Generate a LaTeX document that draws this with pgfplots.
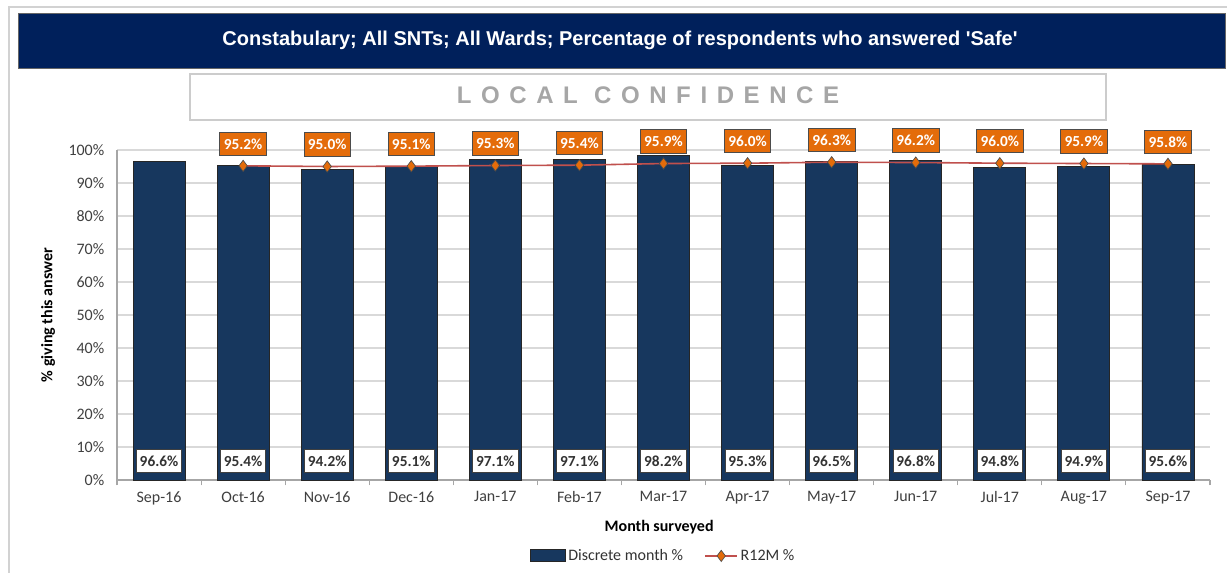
\documentclass[border=0pt]{standalone}
\usepackage{pgfplots}
\usepackage{pgfplotstable}
\pgfplotsset{compat=1.18}
\usepackage{fontspec}
\setmainfont{Carlito}
\newfontfamily\arialfont{Liberation Sans}
\definecolor{titlenavy}{HTML}{00205B}
\definecolor{barnavy}{HTML}{17375E}
\definecolor{lblorange}{HTML}{E46C0A}
\definecolor{linered}{HTML}{C0504D}
\definecolor{gridgray}{HTML}{D9D9D9}
\definecolor{axisgray}{HTML}{A6A6A6}

\pgfplotsset{
  barlegend/.style={legend image code/.code={\draw[##1] (0pt,-4.5pt) rectangle (26pt,4.5pt);}},
  linelegend/.style={legend image code/.code={\draw[mark repeat=2, mark phase=2, ##1] plot coordinates {(0pt,0pt) (12pt,0pt) (24pt,0pt)};}},
}

\pgfplotstableread{
x y
0 96.6
1 95.4
2 94.2
3 95.1
4 97.1
5 97.1
6 98.2
7 95.3
8 96.5
9 96.8
10 94.8
11 94.9
12 95.6
}\discrete

\pgfplotstableread{
x y
1 95.2
2 95.0
3 95.1
4 95.3
5 95.4
6 95.9
7 96.0
8 96.3
9 96.2
10 96.0
11 95.9
12 95.8
}\rtwelve

\begin{document}
\begin{tikzpicture}
\useasboundingbox (0,0) rectangle (920.25pt,429.75pt);
\fill[white] (0,0) rectangle (920.25pt,429.75pt);
% outer frame
\draw[gray!35, line width=1.2pt] (6.75pt,0) -- (6.75pt,424.5pt) -- (925pt,424.5pt);
% title bar
\draw[black!60, fill=titlenavy, line width=0.6pt] (13.5pt,420pt) rectangle (918.75pt,378.75pt);
\node[text=white, font=\arialfont\bfseries\fontsize{15}{17}\selectfont] at (465pt,399.5pt)
  {Constabulary; All SNTs; All Wards; Percentage of respondents who answered 'Safe'};
% banner
\draw[gray!40, line width=1.3pt] (142.5pt,374.25pt) rectangle (829.5pt,339.75pt);
\node[text=axisgray, font=\arialfont\bfseries\fontsize{18}{20}\selectfont\addfontfeature{LetterSpace=40}] at (486pt,358pt)
  {LOCAL CONFIDENCE};

\begin{axis}[
  at={(87.75pt,69.75pt)}, anchor=south west,
  scale only axis, width=819.75pt, height=247.5pt,
  xmin=-0.5, xmax=12.5, ymin=0, ymax=100,
  clip=false,
  axis x line*=bottom, axis y line*=left,
  axis line style={axisgray, line width=0.8pt},
  ymajorgrids, major grid style={gridgray, line width=0.8pt},
  xtick={0,...,12},
  xticklabels={Sep-16,Oct-16,Nov-16,Dec-16,Jan-17,Feb-17,Mar-17,Apr-17,May-17,Jun-17,Jul-17,Aug-17,Sep-17},
  xtick style={draw=none},
  extra x ticks={-0.5,0.5,...,12.5},
  extra x tick labels={},
  extra x tick style={xtick style={draw=axisgray, line width=0.8pt}, tick align=outside, major tick length=4pt},
  ytick={0,10,...,100},
  yticklabels={0\%,10\%,20\%,30\%,40\%,50\%,60\%,70\%,80\%,90\%,100\%},
  ytick style={draw=none},
  tick label style={font=\fontsize{12}{14}\selectfont, text=black!75},
  xticklabel style={yshift=-5pt},
  yticklabel style={xshift=-6pt},
  xlabel={Month surveyed},
  ylabel={\% giving this answer},
  label style={font=\bfseries\fontsize{12}{14}\selectfont},
  xlabel style={at={(axis description cs:0.496,-0.142)}, anchor=center},
  ylabel style={at={(axis description cs:-0.063,0.5)}, anchor=center},
  legend style={at={(0.5,-0.23)}, anchor=center, draw=none, legend columns=-1,
    font=\fontsize{12}{14}\selectfont, text=black!80,
    /tikz/every even column/.append style={column sep=14pt}},
]
\addplot[ybar, bar width=39pt, fill=barnavy, draw=black!85, line width=0.7pt, barlegend]
  table[x=x, y=y] {\discrete};
\addlegendentry{Discrete month \%}

\addplot[draw=none, forget plot, nodes near coords, point meta=explicit,
  nodes near coords={\pgfmathprintnumber[fixed, fixed zerofill, precision=1, assume math mode=true]{\pgfplotspointmeta}\%},
  every node near coord/.append style={anchor=center, fill=white, draw=black!75, line width=0.6pt,
    font=\bfseries\fontsize{11.5}{12}\selectfont, text=black!80, minimum height=17pt, inner xsep=2.5pt, inner ysep=1pt}]
  table[x=x, y expr=5.8, meta=y] {\discrete};

\addplot[linered, line width=1.2pt, mark=diamond*, mark size=4.2pt,
  mark options={fill=lblorange, draw=black!70, line width=0.5pt},
  nodes near coords,
  nodes near coords={\pgfmathprintnumber[fixed, fixed zerofill, precision=1, assume math mode=true]{\pgfplotspointmeta}\%},
  every node near coord/.append style={anchor=center, yshift=16.5pt, fill=lblorange, draw=black!70, line width=0.6pt,
    font=\bfseries\fontsize{11.5}{12}\selectfont, text=white, minimum height=17.5pt, inner xsep=3pt, inner ysep=1pt},
  linelegend]
  table[x=x, y=y] {\rtwelve};
\addlegendentry{R12M \%}
\end{axis}
\end{tikzpicture}
\end{document}
